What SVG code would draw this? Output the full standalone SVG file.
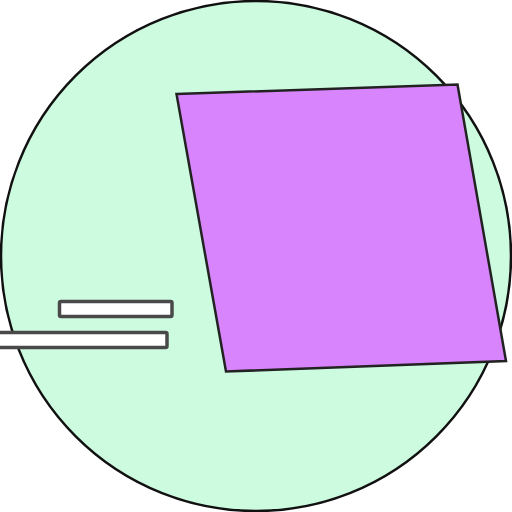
<svg xmlns="http://www.w3.org/2000/svg" width="512" height="512" viewBox="0 0 512 512">
<style>
.bar{fill:#ffffff;stroke:#4a4a4a;stroke-width:3.5}
</style>
<defs>
<filter id="soft" x="-5%" y="-40%" width="110%" height="180%"><feGaussianBlur stdDeviation="0.7"/></filter>
</defs>
<rect width="512" height="512" fill="#ffffff"/>
<g id="circle">
<circle cx="256" cy="256" r="255" fill="#cdfbe0" stroke="#111111" stroke-width="2.5"/>
</g>
<g id="parallelogram">
<polygon points="176.5,94 457.5,84.5 506,361 226,371.5" fill="#d884fc" stroke="#222222" stroke-width="2.5" stroke-linejoin="miter"/>
</g>
<g id="bars" filter="url(#soft)">
<rect class="bar" x="59.5" y="301.5" width="112.5" height="15" rx="1.5"/>
<rect class="bar" x="-2" y="332.5" width="169" height="15" rx="1.5"/>
</g>
</svg>
